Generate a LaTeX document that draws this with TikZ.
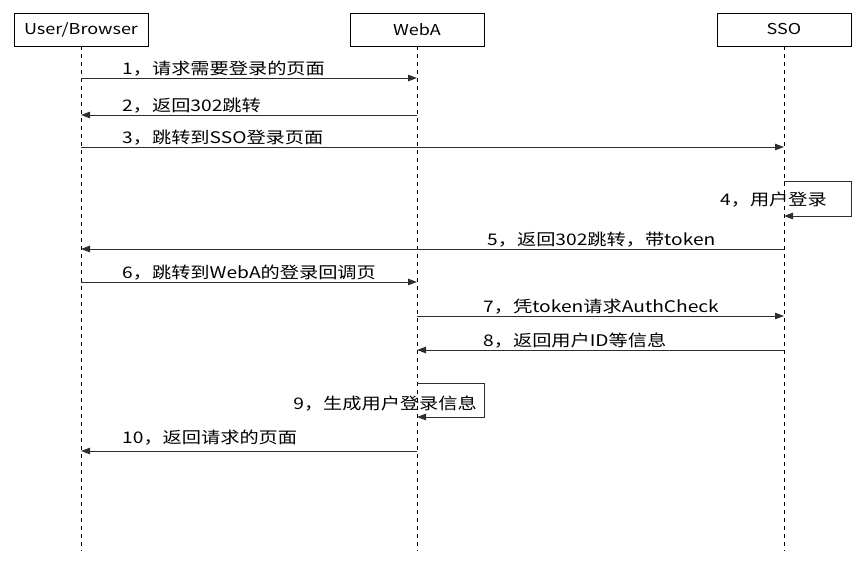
\documentclass[tikz,border=0pt]{standalone}
\usepackage{fontspec}
\setmainfont{Noto Sans CJK SC}[FakeStretch=1.2]
\usepackage{xcolor}
\usepackage{tikz}
\usetikzlibrary{arrows.meta,positioning}
\definecolor{ink}{HTML}{000000}
\definecolor{wire}{HTML}{2E2E2E}
\tikzset{
  actor/.style={draw=ink, line width=0.9pt, minimum width=134pt, minimum height=33pt, inner sep=0pt, font=\fontsize{15}{15}\selectfont},
  life/.style={draw=ink, line width=0.7pt, dash pattern=on 4pt off 4pt},
  msg/.style={draw=wire, line width=1pt, -{Triangle[length=9pt,width=6.5pt]}},
  lab/.style={text=ink, inner sep=0pt, font=\fontsize{16}{16}\selectfont},
}

\begin{document}
\begin{tikzpicture}[x=1pt,y=-1pt]
  \useasboundingbox (0,0) rectangle (865,565);
  \node[actor] (user) at (81,29.5) {User/Browser};
  \node[actor] (weba) at (417,29.5) {WebA};
  \node[actor] (sso) at (784,29.5) {SSO};
  \coordinate (userend) at (81,551);
  \coordinate (webaend) at (417,551);
  \coordinate (ssoend) at (784,551);
  \draw[life] (user.south) -- (userend);
  \draw[life] (weba.south) -- (webaend);
  \draw[life] (sso.south) -- (ssoend);
  \foreach \n/\y in {1/78,2/115,3/147,5/249,6/282,7/316,8/350,10/451}{
    \coordinate (u\n) at (81,\y);
    \coordinate (w\n) at (417,\y);
    \coordinate (s\n) at (784,\y);
  }
  \coordinate (s4a) at (784,181); \coordinate (s4b) at (784,216);
  \coordinate (w9a) at (417,383); \coordinate (w9b) at (417,417);
  \draw[msg] (u1) -- (w1);
  \draw[msg] (w2) -- (u2);
  \draw[msg] (u3) -- (s3);
  \draw[msg] (s4a) -- ++(67,0) |- (s4b);
  \draw[msg] (s5) -- (u5);
  \draw[msg] (u6) -- (w6);
  \draw[msg] (w7) -- (s7);
  \draw[msg] (s8) -- (w8);
  \draw[msg] (w9a) -- ++(67,0) |- (w9b);
  \draw[msg] (w10) -- (u10);
  \node[lab, anchor=base west] (m1) at (122,74) {1，请求需要登录的页面};
  \node[lab, anchor=base west] (m2) at (122,111) {2，返回302跳转};
  \node[lab, anchor=base west] (m3) at (122,143) {3，跳转到SSO登录页面};
  \node[lab, anchor=base east] (m4) at (827,205) {4，用户登录};
  \node[lab, anchor=base west] (m5) at (487,245) {5，返回302跳转，带token};
  \node[lab, anchor=base west] (m6) at (122,278) {6，跳转到WebA的登录回调页};
  \node[lab, anchor=base west] (m7) at (483,312) {7，凭token请求AuthCheck};
  \node[lab, anchor=base west] (m8) at (483,346) {8，返回用户ID等信息};
  \node[lab, anchor=base east] (m9) at (477,409) {9，生成用户登录信息};
  \node[lab, anchor=base west] (m10) at (122,443) {10，返回请求的页面};
\end{tikzpicture}
\end{document}
